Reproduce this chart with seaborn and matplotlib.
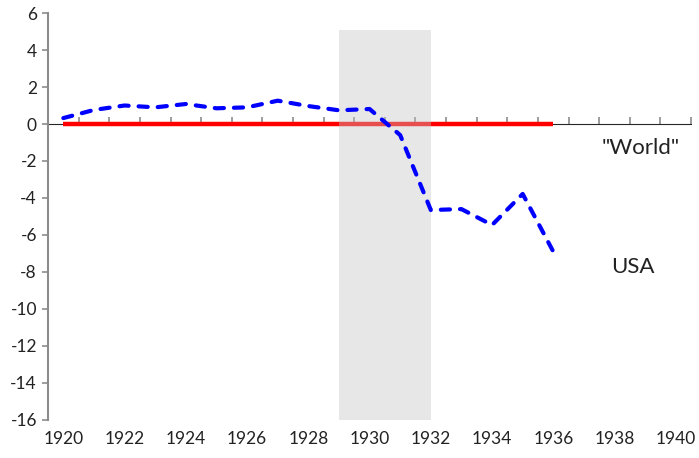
import matplotlib
matplotlib.use("Agg")
import matplotlib.pyplot as plt
import seaborn as sns
import pandas as pd

# values
years = list(range(1920, 1937))
usa = [0.32, 0.76, 1.0, 0.9, 1.08, 0.85, 0.9, 1.26, 0.97, 0.74, 0.81,
       -0.6, -4.65, -4.6, -5.46, -3.78, -6.9]
world = [0] * len(years)
label_years = list(range(1920, 1941, 2))
y_ticks = list(range(-16, 7, 2))
crisis = (1929, 1932)

sns.set_style("white")
plt.rcParams['font.family'] = ['Lato', 'DejaVu Sans']
plt.rcParams['axes.unicode_minus'] = False

df = pd.DataFrame({"year": years, "USA": usa, "World": world})

fig = plt.figure(figsize=(6.99, 4.58), dpi=100)
ax = fig.add_axes([0.0687, 0.083, 0.92, 0.8886])

sns.lineplot(data=df, x="year", y="World", color="red", lw=3.2, ax=ax,
             solid_capstyle="butt", zorder=2)
ax.fill_between(crisis, -16, 5.1, color="#c4c4c4", alpha=0.4, lw=0, zorder=3)
sns.lineplot(data=df, x="year", y="USA", color="#0000ff", lw=3, ax=ax,
             dashes=(2.2, 2.4), dash_capstyle="round", zorder=4)

ax.set_xlim(1919.5, 1940.5)
ax.set_ylim(-16, 6)
ax.set_xlabel("")
ax.set_ylabel("")

grey = "#8c8c8c"
for s in ["top", "right", "bottom"]:
    ax.spines[s].set_visible(False)
ax.spines["left"].set_color(grey)
ax.spines["left"].set_linewidth(1.5)

ax.set_yticks(y_ticks)
ax.tick_params(axis="y", direction="out", length=4, width=1.2, color=grey,
               labelsize=12.5, labelcolor="#222222", pad=4, left=True)
ax.set_xticks(label_years)
ax.tick_params(axis="x", length=0, labelsize=12.5, labelcolor="#222222",
               pad=8, bottom=True)

# zero axis with category ticks
zero_ax = ax.secondary_xaxis(16 / 22)
zero_ax.spines["bottom"].set_color(grey)
zero_ax.spines["bottom"].set_linewidth(1.5)
zero_ax.set_xticks([y + 0.5 for y in range(1919, 1941)])
zero_ax.set_xticklabels([])
zero_ax.tick_params(axis="x", direction="out", length=5, width=1.2, color=grey)

ax.text(1938.85, -1.3, '"World"', fontsize=16, color="#222222",
        ha="center", va="center")
ax.text(1938.6, -7.75, "USA", fontsize=16, color="#222222",
        ha="center", va="center")

fig.savefig("out.png", dpi=100)
